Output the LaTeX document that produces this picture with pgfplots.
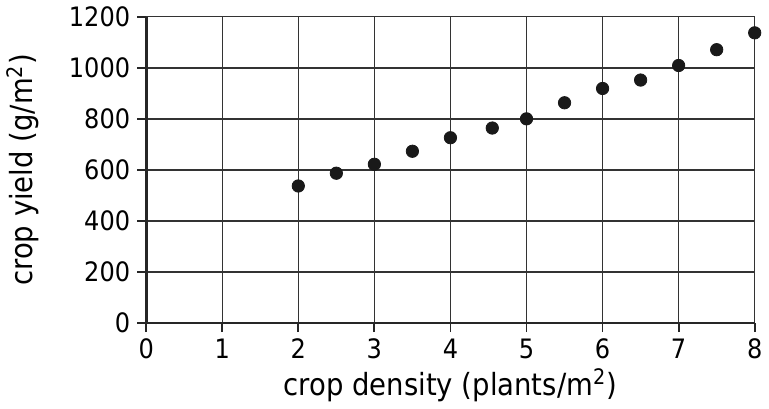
\documentclass[border=0pt]{standalone}
\usepackage{fontspec}
\setmainfont{DejaVu Sans Condensed}
\usepackage{pgfplots}
\pgfplotsset{compat=1.18}
\begin{document}
\begin{tikzpicture}
\begin{axis}[
  width=305pt, height=153.5pt, scale only axis,
  xmin=0, xmax=8, ymin=0, ymax=1200,
  xtick={0,1,...,8}, ytick={0,200,...,1200},
  axis lines=left, axis line style={-, line width=1.4pt, black!85},
  grid=major, grid style={line width=0.7pt, black!80},
  tick style={line width=0.9pt, black!85},
  tick align=outside, major tick length=4.5pt,
  tick label style={font=\fontsize{13.4}{15}\selectfont},
  label style={font=\fontsize{15.3}{18}\selectfont},
  /pgf/number format/assume math mode=true,
  yticklabel style={/pgf/number format/1000 sep={}},
  xlabel={crop density (plants/m\textsuperscript{2})},
  ylabel={crop yield (g/m\textsuperscript{2})},
  xlabel style={yshift=2pt},
  ylabel style={yshift=8pt},
  clip=false,
]
\addplot[only marks, mark=*, mark size=3.1pt, black!90] coordinates {
(2,537) (2.5,587) (3,622) (3.5,673) (4,726) (4.55,764) (5,800)
(5.5,863) (6,919) (6.5,952) (7,1009) (7.5,1071) (8,1137)
};
\end{axis}
\end{tikzpicture}
\end{document}
